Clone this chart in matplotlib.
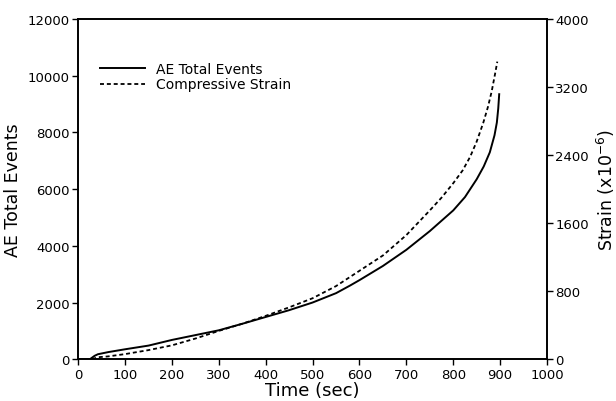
import matplotlib
matplotlib.use("Agg")
import matplotlib.pyplot as plt

# AE total events (solid line)
ae_time = [0, 25, 35, 42, 64, 100, 150, 200, 250, 300, 350, 400, 450, 500,
           550, 580, 600, 650, 700, 750, 800, 825, 850, 865, 878, 888, 893,
           896, 898]
ae_events = [0, 0, 120, 175, 250, 350, 480, 680, 850, 1020, 1250, 1490, 1730,
             2000, 2330, 2600, 2790, 3290, 3860, 4520, 5250, 5720, 6350, 6800,
             7300, 7900, 8350, 8850, 9350]

# compressive strain (dashed line), x10^-6
strain_time = [30, 42, 64, 100, 150, 200, 250, 300, 350, 400, 450, 500, 550,
               600, 650, 700, 750, 775, 800, 820, 836, 850, 864, 874, 882, 889,
               894]
strain = [0, 23, 33, 60, 107, 163, 243, 333, 417, 510, 610, 717, 860, 1040,
          1220, 1460, 1750, 1900, 2070, 2220, 2380, 2560, 2780, 2967, 3150,
          3350, 3500]

plt.rcParams["font.family"] = "DejaVu Sans"

fig = plt.figure(figsize=(6.16, 4.02), dpi=100)
ax = fig.add_axes([0.127, 0.104, 0.761, 0.846])
ax2 = ax.twinx()

l1, = ax.plot(ae_time, ae_events, color="black", lw=1.4, label="AE Total Events")
l2, = ax2.plot(strain_time, strain, color="black", lw=1.3, ls=(0, (2.2, 1.6)),
               label="Compressive Strain")

ax.set_xlim(0, 1000)
ax.set_ylim(0, 12000)
ax2.set_ylim(0, 4000)
ax.set_xticks(range(0, 1001, 100))
ax.set_yticks(range(0, 12001, 2000))
ax2.set_yticks(range(0, 4001, 800))

for a in (ax, ax2):
    a.tick_params(direction="out", length=4, width=1, labelsize=9.5, pad=2)
    for s in a.spines.values():
        s.set_linewidth(1.2)

ax.set_xlabel("Time (sec)", fontsize=13, labelpad=0)
ax.set_ylabel("AE Total Events", fontsize=12.5, labelpad=4)
ax2.set_ylabel("Strain (x10$^{-6}$)", fontsize=12.5, labelpad=4)

ax.legend(handles=[l1, l2], loc="upper left", bbox_to_anchor=(0.035, 0.89),
          frameon=False, fontsize=10, handlelength=3.2, handletextpad=0.8,
          labelspacing=0.1, borderaxespad=0)

fig.savefig("out.png", dpi=100)
plt.close(fig)
